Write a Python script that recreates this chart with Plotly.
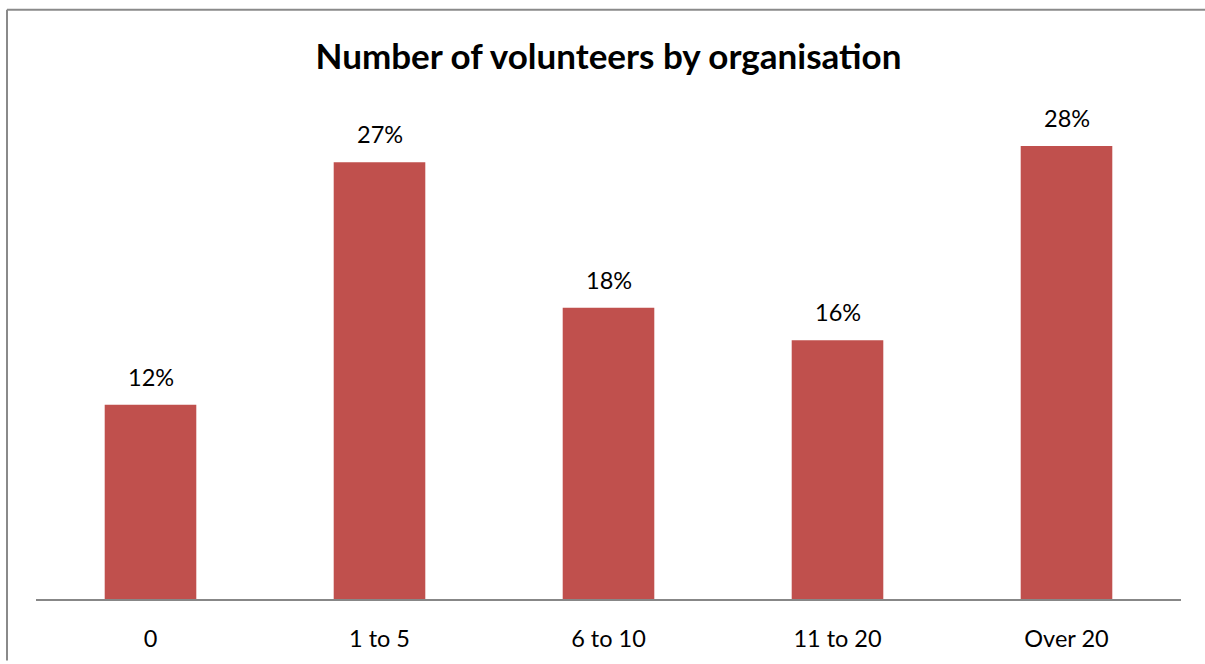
import plotly.graph_objects as go

# Share of organisations by number of volunteers
categories = ["0", "1 to 5", "6 to 10", "11 to 20", "Over 20"]
shares = [12, 27, 18, 16, 28]

BAR_COLOR = "#C0504D"
FONT = "Lato"

W, H = 1205, 664
ML, MR, MT, MB = 36, 24, 112, 62
plot_w = W - ML - MR
plot_h = H - MT - MB

fig = go.Figure(
    go.Bar(
        x=categories,
        y=shares,
        marker=dict(color=BAR_COLOR, line=dict(width=0)),
        width=0.4,
        hoverinfo="skip",
    )
)

# Value labels above each bar
for cat, val in zip(categories, shares):
    fig.add_annotation(
        x=cat, y=val, text=f"{val}%", showarrow=False,
        xref="x", yref="y", yanchor="bottom", yshift=12,
        font=dict(family=FONT, size=23.5, color="#000000"),
    )

# Chart frame: top and left edges of the outer border
px_to_x = lambda px: (px - ML) / plot_w
px_to_y = lambda py: (H - MB - py) / plot_h
frame = dict(color="#8A8A8A", width=2)
fig.add_shape(type="line", xref="paper", yref="paper",
              x0=px_to_x(7), x1=px_to_x(W), y0=px_to_y(9), y1=px_to_y(9), line=frame)
fig.add_shape(type="line", xref="paper", yref="paper",
              x0=px_to_x(7), x1=px_to_x(7), y0=px_to_y(9), y1=px_to_y(H), line=frame)

fig.update_layout(
    width=W, height=H,
    margin=dict(l=ML, r=MR, t=MT, b=MB),
    paper_bgcolor="white", plot_bgcolor="white",
    showlegend=False,
    title=dict(
        text="<b>Number of volunteers by organisation</b>",
        x=(ML + plot_w / 2) / W, xanchor="center",
        y=1 - 57 / H, yanchor="middle",
        font=dict(family=FONT, size=35, color="#000000"),
    ),
    bargap=0.6,
    xaxis=dict(
        showline=True, linecolor="#878787", linewidth=2,
        showgrid=False, ticks="", zeroline=False,
        tickfont=dict(family=FONT, size=23.5, color="#000000"),
        ticklabelstandoff=18,
    ),
    yaxis=dict(
        range=[0, 30.1], visible=False, showgrid=False, zeroline=False,
    ),
)

fig.write_html("out.html")
